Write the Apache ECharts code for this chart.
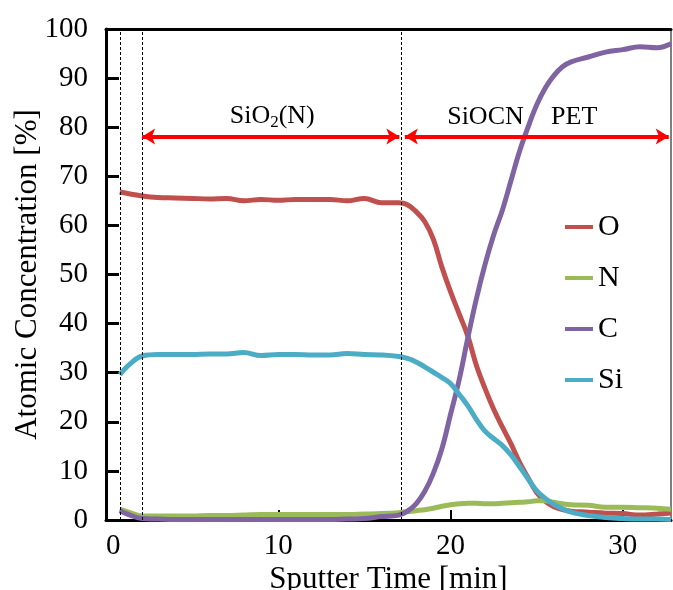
<!DOCTYPE html>
<html lang="en">
<head>
    <meta charset="UTF-8">
    <title>Atomic Concentration</title>
    <script src="https://cdn.jsdelivr.net/npm/echarts@6/dist/echarts.min.js"></script>
    <style>
        html, body { margin: 0; padding: 0; background: #fff; }
        #chart { width: 673px; height: 590px; }
    </style>
</head>
<body>
    <div id="chart"></div>
    <script>
        // sputter time [min]
        var time = [0.8, 1.4, 2.1, 3, 4, 5, 6, 7, 8, 9, 10, 11, 12, 13, 14, 15, 16, 17, 17.5, 18, 18.5, 19, 19.5,
            20, 20.5, 21, 21.5, 22, 22.5, 23, 23.5, 24, 24.5, 25, 25.5, 26, 26.5, 27, 28, 29, 30, 31, 32, 32.8];
        var oxygen = [66.8, 66.4, 66.0, 65.7, 65.6, 65.5, 65.4, 65.5, 65.0, 65.3, 65.1, 65.3, 65.3, 65.3, 65.0, 65.5, 64.6, 64.6, 64.2, 62.8, 60.8, 57.2, 51.5,
            46.5, 42.0, 37.5, 31.5, 26.8, 22.6, 19.0, 15.6, 11.8, 8.6, 5.6, 3.8, 2.7, 2.1, 1.8, 1.6, 1.4, 1.3, 1.0, 1.2, 1.4];
        var nitrogen = [2.2, 1.5, 0.8, 0.8, 0.8, 0.8, 0.9, 0.9, 1.0, 1.1, 1.1, 1.1, 1.1, 1.1, 1.1, 1.2, 1.3, 1.5, 1.7, 1.9, 2.1, 2.4, 2.8,
            3.1, 3.3, 3.4, 3.4, 3.3, 3.3, 3.4, 3.5, 3.6, 3.7, 3.9, 3.9, 3.6, 3.3, 3.1, 3.0, 2.6, 2.6, 2.5, 2.4, 2.2];
        var carbon = [1.9, 1.0, 0.3, 0.2, 0.1, 0.1, 0.1, 0.1, 0.1, 0.1, 0.1, 0.1, 0.1, 0.1, 0.2, 0.3, 0.7, 1.0, 1.8, 3.3, 5.8, 9.5, 14.5,
            21.5, 28.5, 37, 45, 52, 58, 63, 69, 75, 80, 84.5, 88, 90.5, 92.3, 93.3, 94.3, 95.3, 95.8, 96.4, 96.2, 97.0];
        var silicon = [29.6, 31.8, 33.4, 33.7, 33.7, 33.7, 33.8, 33.8, 34.1, 33.5, 33.7, 33.7, 33.6, 33.6, 33.9, 33.7, 33.6, 33.3, 32.9, 32.2, 31.2, 30.1, 29.0,
            27.8, 25.6, 23.3, 20.5, 18.1, 16.6, 15.2, 13.3, 10.9, 8.4, 6.0, 4.4, 3.2, 2.3, 1.6, 0.9, 0.5, 0.3, 0.2, 0.2, 0.1];

        var names = ['O', 'N', 'C', 'Si'];
        var colors = ['#C0504D', '#9BBB59', '#8064A2', '#4BACC6'];
        var values = [oxygen, nitrogen, carbon, silicon];

        // layer boundaries and region arrows
        var boundaries = [0.81, 2.08, 17.13];
        var arrowY = 78.1;
        var arrows = [[2.1, 17.03], [17.35, 32.67]];

        var font = '"Liberation Serif", "Times New Roman", serif';
        var chart = echarts.init(document.getElementById('chart'));

        // serif label style, forced through rich text
        var serif = function (size) {
            return { fontFamily: font, fontSize: size, color: '#000' };
        };

        var series = names.map(function (n, k) {
            return {
                name: n,
                type: 'line',
                smooth: 0.4,
                showSymbol: false,
                symbol: 'none',
                lineStyle: { color: colors[k], width: 5 },
                itemStyle: { color: colors[k] },
                data: time.map(function (t, i) { return [t, values[k][i]]; })
            };
        });

        // dashed boundaries, arrows, and layer names
        series.push({
            name: 'marks',
            type: 'line',
            data: [],
            silent: true,
            markLine: {
                silent: true,
                symbol: 'none',
                label: { show: false },
                lineStyle: { color: '#000', width: 1, type: [3, 2] },
                data: boundaries.map(function (b) { return { xAxis: b }; })
            }
        });
        series.push({
            name: 'arrows',
            type: 'line',
            data: [],
            silent: true,
            markLine: {
                silent: true,
                symbol: ['arrow', 'arrow'],
                symbolSize: [12, 13],
                label: { show: false },
                lineStyle: { color: '#FF0000', width: 4, type: 'solid' },
                data: arrows.map(function (a) {
                    return [{ coord: [a[0], arrowY] }, { coord: [a[1], arrowY] }];
                })
            },
            markPoint: {
                silent: true,
                symbol: 'rect',
                symbolSize: 1,
                itemStyle: { color: 'rgba(0,0,0,0)' },
                label: {
                    show: true,
                    position: 'inside',
                    color: '#000',
                    fontFamily: font,
                    fontSize: 26,
                    rich: {
                        a: { fontFamily: font, fontSize: 26, color: '#000', lineHeight: 30 },
                        b: { fontFamily: font, fontSize: 17, color: '#000', lineHeight: 14, verticalAlign: 'bottom' }
                    }
                },
                data: [
                    { coord: [9.65, 82.2], label: { formatter: '{a|SiO}{b|2}{a|(N)}' } },
                    { coord: [22.03, 82.1], label: { formatter: '{a|SiOCN}' } },
                    { coord: [27.18, 82.1], label: { formatter: '{a|PET}' } }
                ]
            }
        });

        var option = {
            animation: false,
            textStyle: { fontFamily: font, color: '#000' },
            grid: {
                left: 106, right: 2, top: 29, bottom: 70,
                containLabel: false,
                outerBoundsMode: 'none',
                show: true, borderColor: '#000', borderWidth: 1
            },
            legend: {
                data: names,
                orient: 'vertical',
                left: 560,
                top: 207,
                icon: 'rect',
                itemWidth: 28,
                itemHeight: 4,
                itemGap: 21,
                formatter: '{t|{name}}',
                textStyle: {
                    fontFamily: font, fontSize: 30, color: '#000', lineHeight: 30,
                    rich: { t: Object.assign(serif(30), { lineHeight: 30 }) }
                }
            },
            xAxis: [{
                type: 'value',
                min: 0,
                max: 32.8,
                interval: 10,
                name: 'Sputter Time [min]',
                nameLocation: 'middle',
                nameGap: 44,
                nameMoveOverlap: false,
                nameTextStyle: { fontFamily: font, fontSize: 31, color: '#000' },
                axisLine: { show: true, lineStyle: { color: '#000', width: 3 } },
                axisTick: { show: true, inside: true, length: 10, lineStyle: { color: '#000', width: 2 } },
                axisLabel: {
                    fontFamily: font, fontSize: 29, color: '#000', margin: 12,
                    alignMinLabel: 'left', showMaxLabel: false,
                    formatter: function (v) { return '{t|' + v + '}'; },
                    rich: { t: serif(29) }
                },
                splitLine: { show: false }
            }, {
                type: 'value',
                position: 'top',
                min: 0,
                max: 32.8,
                axisLine: { show: true, lineStyle: { color: '#000', width: 3 } },
                axisTick: { show: false },
                axisLabel: { show: false },
                splitLine: { show: false }
            }],
            yAxis: {
                type: 'value',
                min: 0,
                max: 100,
                interval: 10,
                name: 'Atomic Concentration [%]',
                nameLocation: 'middle',
                nameGap: 63,
                nameMoveOverlap: false,
                nameTextStyle: { fontFamily: font, fontSize: 31, color: '#000' },
                axisLine: { show: true, lineStyle: { color: '#000', width: 3 } },
                axisTick: { show: true, inside: true, length: 13, lineStyle: { color: '#000', width: 3 } },
                axisLabel: {
                    fontFamily: font, fontSize: 29, color: '#000', margin: 18,
                    formatter: function (v) { return '{t|' + v + '}'; },
                    rich: { t: serif(29) }
                },
                splitLine: { show: false }
            },
            series: series
        };
        chart.setOption(option);
    </script>
</body>
</html>
